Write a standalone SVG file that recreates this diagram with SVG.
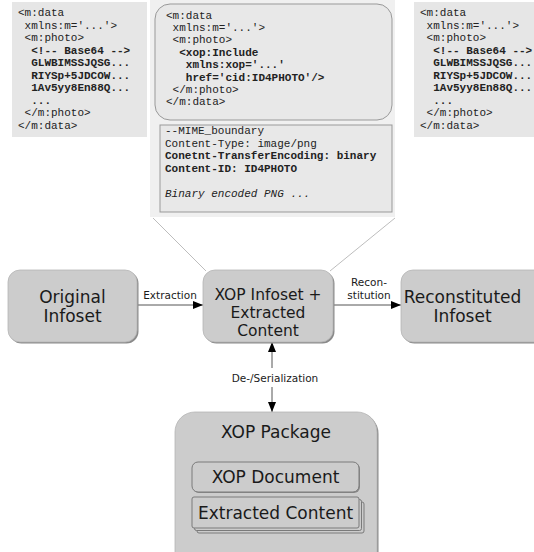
<svg xmlns="http://www.w3.org/2000/svg" width="534" height="552" viewBox="0 0 534 552">
<style>
.code{font-family:"Liberation Mono","DejaVu Sans Mono",monospace;font-size:11px;fill:#222;white-space:pre}
.b{font-weight:bold}
.i{font-style:italic}
.lbl{font-family:"DejaVu Sans","Liberation Sans",sans-serif;font-size:17px;fill:#1a1a1a;text-anchor:middle}
.mid{font-size:15.5px}
.small{font-family:"DejaVu Sans","Liberation Sans",sans-serif;font-size:10.5px;fill:#1a1a1a;text-anchor:middle}
.node{fill:#cccccc;stroke:#b5b5b5;stroke-width:0.8}
.shadow{fill:#8a8a8a}
.inner{fill:#cccccc;stroke:#7a7a7a;stroke-width:1}
.conn{stroke:#555;stroke-width:1;fill:none}
.thin{stroke:#bdbdbd;stroke-width:1;fill:none}
</style>
<defs>
<marker id="ah" viewBox="0 0 10 10" refX="10" refY="5" markerWidth="10" markerHeight="10" markerUnits="userSpaceOnUse" orient="auto">
<path d="M0,1 L10,5 L0,9 Z" fill="#000"/>
</marker>
</defs>
<rect width="534" height="552" fill="#fff"/>

<g id="code-left">
<rect x="12" y="2" width="135" height="135" fill="#e6e6e6"/>
<text class="code" xml:space="preserve" x="18" y="16">&lt;m:data</text>
<text class="code" xml:space="preserve" x="18" y="28.5"> xmlns:m='...'&gt;</text>
<text class="code" xml:space="preserve" x="18" y="41"> &lt;m:photo&gt;</text>
<text class="code b" xml:space="preserve" x="18" y="53.5">  &lt;!-- Base64 --&gt;</text>
<text class="code b" xml:space="preserve" x="18" y="66">  GLWBIMSSJQSG...</text>
<text class="code b" xml:space="preserve" x="18" y="78.5">  RIYSp+5JDCOW...</text>
<text class="code b" xml:space="preserve" x="18" y="91">  1Av5yy8En88Q...</text>
<text class="code b" xml:space="preserve" x="18" y="103.5">  ...</text>
<text class="code" xml:space="preserve" x="18" y="116"> &lt;/m:photo&gt;</text>
<text class="code" xml:space="preserve" x="18" y="128.5">&lt;/m:data&gt;</text>
</g>

<g id="code-right">
<rect x="414" y="2" width="120" height="135" fill="#e6e6e6"/>
<text class="code" xml:space="preserve" x="420" y="16">&lt;m:data</text>
<text class="code" xml:space="preserve" x="420" y="28.5"> xmlns:m='...'&gt;</text>
<text class="code" xml:space="preserve" x="420" y="41"> &lt;m:photo&gt;</text>
<text class="code b" xml:space="preserve" x="420" y="53.5">  &lt;!-- Base64 --&gt;</text>
<text class="code b" xml:space="preserve" x="420" y="66">  GLWBIMSSJQSG...</text>
<text class="code b" xml:space="preserve" x="420" y="78.5">  RIYSp+5JDCOW...</text>
<text class="code b" xml:space="preserve" x="420" y="91">  1Av5yy8En88Q...</text>
<text class="code b" xml:space="preserve" x="420" y="103.5">  ...</text>
<text class="code" xml:space="preserve" x="420" y="116"> &lt;/m:photo&gt;</text>
<text class="code" xml:space="preserve" x="420" y="128.5">&lt;/m:data&gt;</text>
</g>

<g id="code-middle">
<rect x="150" y="0" width="245" height="217" fill="#f0f0f0"/>
<rect x="155" y="4" width="237" height="116" rx="15" ry="15" fill="#e8e8e8" stroke="#999" stroke-width="1"/>
<text class="code" xml:space="preserve" x="166" y="18.5">&lt;m:data</text>
<text class="code" xml:space="preserve" x="166" y="31"> xmlns:m='...'&gt;</text>
<text class="code" xml:space="preserve" x="166" y="43.3"> &lt;m:photo&gt;</text>
<text class="code b" xml:space="preserve" x="166" y="55.7">  &lt;xop:Include</text>
<text class="code b" xml:space="preserve" x="166" y="68">   xmlns:xop='...'</text>
<text class="code b" xml:space="preserve" x="166" y="80.5">   href='cid:ID4PHOTO'/&gt;</text>
<text class="code" xml:space="preserve" x="166" y="93"> &lt;/m:photo&gt;</text>
<text class="code" xml:space="preserve" x="166" y="105.3">&lt;/m:data&gt;</text>
<rect x="160" y="125" width="232" height="87" fill="#e8e8e8" stroke="#999" stroke-width="1"/>
<text class="code" xml:space="preserve" x="165" y="134">--MIME_boundary</text>
<text class="code" xml:space="preserve" x="165" y="146.5">Content-Type: image/png</text>
<text class="code b" xml:space="preserve" x="165" y="159">Conetnt-TransferEncoding: binary</text>
<text class="code b" xml:space="preserve" x="165" y="171.5">Content-ID: ID4PHOTO</text>
<text class="code i" xml:space="preserve" x="165" y="196.5">Binary encoded PNG ...</text>
</g>

<g id="connectors">
<line class="thin" x1="153" y1="218" x2="206" y2="271"/>
<line class="thin" x1="395" y1="218" x2="330" y2="271"/>
<line class="conn" x1="137" y1="305" x2="203" y2="305" marker-end="url(#ah)"/>
<text class="small" x="170" y="299">Extraction</text>
<line class="conn" x1="333" y1="305" x2="401" y2="305" marker-end="url(#ah)"/>
<text class="small" x="369" y="286">Recon-</text>
<text class="small" x="369" y="298.5">stitution</text>
<line class="conn" x1="272" y1="368" x2="272" y2="342" marker-end="url(#ah)"/>
<line class="conn" x1="272" y1="387" x2="272" y2="412" marker-end="url(#ah)"/>
<text class="small" x="275" y="382">De-/Serialization</text>
</g>

<g id="original-infoset">
<rect class="shadow" x="9.5" y="271.5" width="129" height="72" rx="12" ry="12"/>
<rect class="node" x="8" y="270" width="129" height="72" rx="12" ry="12"/>
<text class="lbl" x="72.5" y="302.5">Original</text>
<text class="lbl" x="72.5" y="322">Infoset</text>
</g>

<g id="xop-infoset">
<rect class="shadow" x="204.5" y="271.5" width="130" height="72" rx="12" ry="12"/>
<rect class="node" x="203" y="270" width="130" height="72" rx="12" ry="12"/>
<text class="lbl mid" x="268" y="300">XOP Infoset +</text>
<text class="lbl mid" x="268" y="318">Extracted</text>
<text class="lbl mid" x="268" y="336">Content</text>
</g>

<g id="reconstituted-infoset">
<rect class="shadow" x="402.5" y="271.5" width="150" height="72" rx="12" ry="12"/>
<rect class="node" x="401" y="270" width="150" height="72" rx="12" ry="12"/>
<text class="lbl" x="462.5" y="302.5">Reconstituted</text>
<text class="lbl" x="462.5" y="322">Infoset</text>
</g>

<g id="xop-package">
<rect class="shadow" x="176.5" y="413.5" width="202" height="160" rx="20" ry="20"/>
<rect class="node" x="175" y="412" width="202" height="160" rx="20" ry="20"/>
<text class="lbl" x="276" y="438">XOP Package</text>
</g>

<g id="xop-document">
<rect x="193" y="463" width="167" height="30" rx="6" ry="6" fill="#8a8a8a"/>
<rect class="inner" x="192" y="462" width="167" height="30" rx="6" ry="6"/>
<text class="lbl" x="275.5" y="482.5">XOP Document</text>
</g>

<g id="extracted-content">
<rect class="inner" x="197" y="502" width="167" height="31" rx="2" ry="2"/>
<rect class="inner" x="194.5" y="499.5" width="167" height="31" rx="2" ry="2"/>
<rect class="inner" x="192" y="497" width="167" height="31" rx="2" ry="2"/>
<text class="lbl" x="275.5" y="519">Extracted Content</text>
</g>
</svg>
